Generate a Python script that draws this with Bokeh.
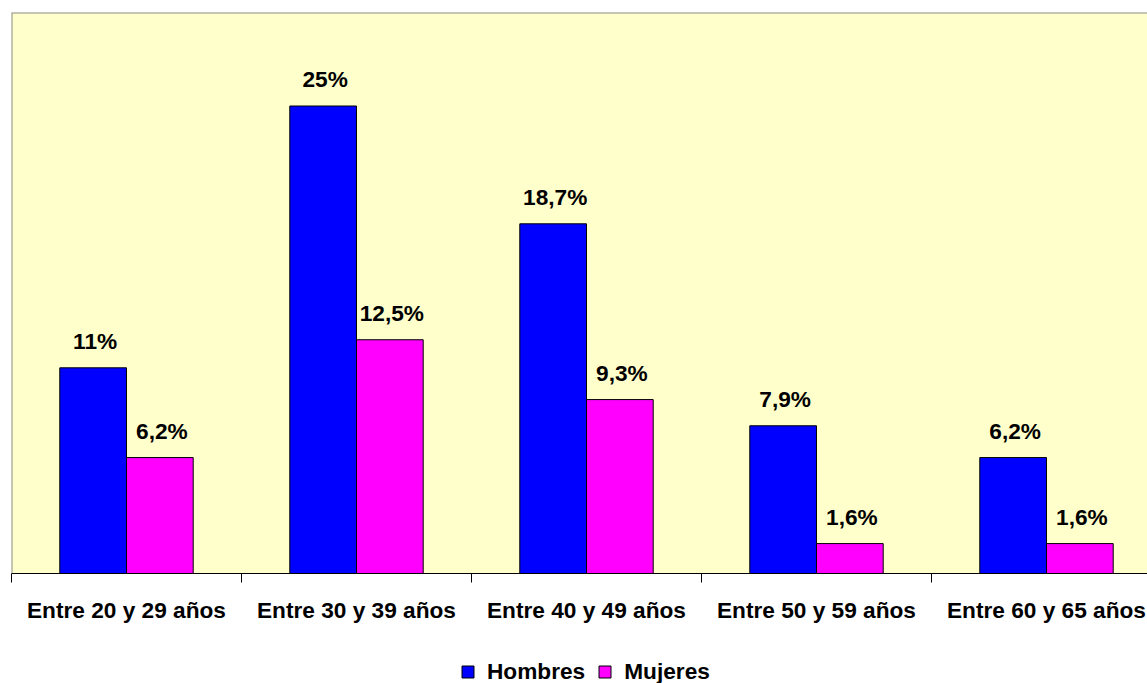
from bokeh.plotting import figure
from bokeh.layouts import column
from bokeh.models import FixedTicker, Range1d, Span, ColumnDataSource, Legend, LegendItem
from bokeh.core.properties import value
from bokeh.embed import file_html
from bokeh.resources import INLINE

categories = ["Entre 20 y 29 años", "Entre 30 y 39 años", "Entre 40 y 49 años",
              "Entre 50 y 59 años", "Entre 60 y 65 años"]
hombres = [11, 25, 18.7, 7.9, 6.2]
mujeres = [6.2, 12.5, 9.3, 1.6, 1.6]
series_names = ["Hombres", "Mujeres"]
series_colors = ["#0000FF", "#FF00FF"]


def fmt(v):
    s = ("%.1f" % v)
    if s.endswith(".0"):
        s = s[:-2]
    return s.replace(".", ",") + "%"


FONT = "Liberation Sans"
FS = "17pt"
W, H = 1147, 683
H_MAIN = 640
BW = 0.29

centers = [i + 0.5 for i in range(len(categories))]
x_h = [c - BW / 2 for c in centers]
x_m = [c + BW / 2 for c in centers]

src_h = ColumnDataSource(dict(x=x_h, top=hombres, lab=[fmt(v) for v in hombres]))
src_m = ColumnDataSource(dict(x=x_m, top=mujeres, lab=[fmt(v) for v in mujeres]))
sources = [src_h, src_m]

p = figure(width=W, height=H_MAIN, output_backend="svg", toolbar_location=None,
           x_range=Range1d(0, (W - 11) / 230.0), y_range=Range1d(0, 30),
           y_axis_location=None, min_border_left=11, min_border_top=12,
           min_border_right=0, min_border_bottom=H_MAIN - 573)
p.background_fill_color = "#FFFFCC"
p.border_fill_color = "white"
p.outline_line_color = None
p.grid.visible = False

for s, c in zip(sources, series_colors):
    p.vbar(x="x", top="top", width=BW, source=s, fill_color=c,
           line_color="black", line_width=1)
    p.text(x="x", y="top", text="lab", source=s, text_align="center",
           text_baseline="alphabetic", y_offset=-27, x_offset=2,
           text_font=value(FONT), text_font_size=FS, text_font_style="bold",
           text_color="black")

p.add_layout(Span(location=0, dimension="height", line_color="#8C8C8C", line_width=2))
p.add_layout(Span(location=30, dimension="width", line_color="#8C8C8C", line_width=2))

ax = p.xaxis[0]
ax.ticker = FixedTicker(ticks=centers, minor_ticks=list(range(len(categories) + 1)))
ax.major_label_overrides = {c: lab for c, lab in zip(centers, categories)}
ax.major_tick_out = 0
ax.major_tick_in = 0
ax.minor_tick_out = 9
ax.minor_tick_in = 0
ax.minor_tick_line_color = "black"
ax.axis_line_color = "black"
ax.major_label_standoff = 14
ax.major_label_text_font = FONT
ax.major_label_text_font_size = FS
ax.major_label_text_font_style = "bold"
ax.major_label_text_color = "black"

# legend strip: same series as hidden renderers, only their legend entries show
pl = figure(width=W, height=H - H_MAIN, output_backend="svg", toolbar_location=None,
            x_range=Range1d(0, (W - 11) / 230.0), y_range=Range1d(0, 30),
            x_axis_location=None, y_axis_location=None,
            min_border=0)
pl.outline_line_color = None
pl.grid.visible = False
pl.background_fill_color = "white"
pl.border_fill_color = "white"
items = []
for name, s, c in zip(series_names, sources, series_colors):
    r = pl.vbar(x="x", top="top", width=BW, source=s, fill_color=c,
                line_color="black", line_width=1)
    r.visible = False
    items.append(LegendItem(label=name, renderers=[r]))
lg = Legend(items=items, location=(449, -2), orientation="horizontal",
            label_text_font=FONT, label_text_font_size=FS,
            label_text_font_style="bold", label_text_color="black",
            glyph_width=15, glyph_height=15, label_standoff=12, spacing=12,
            padding=0, margin=0, border_line_color=None, background_fill_alpha=0,
            inactive_fill_alpha=0)
pl.add_layout(lg, "center")

layout = column(p, pl, spacing=0)
open("out.html", "w").write(file_html(layout, INLINE))
